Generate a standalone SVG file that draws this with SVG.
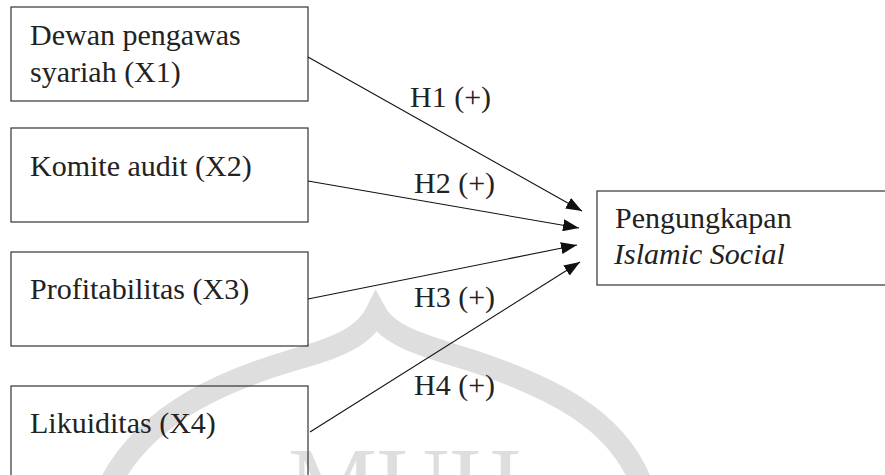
<svg xmlns="http://www.w3.org/2000/svg" width="885" height="475" viewBox="0 0 885 475">
  <style>
    .box { fill: none; stroke: #333; stroke-width: 1.2; }
    .t { font-family: "Liberation Serif", "Times New Roman", serif; font-size: 30px; fill: #222; }
    .it { font-style: italic; }
    .edge { stroke: #111; stroke-width: 1.1; fill: none; }
    .wm { fill: none; stroke: #dedede; stroke-width: 22; }
    .wmt { font-family: "Liberation Serif", "Times New Roman", serif; font-size: 100px; fill: #dedede; }
  </style>
  <defs>
    <marker id="arrow" markerUnits="userSpaceOnUse" markerWidth="16" markerHeight="12" refX="16" refY="6" orient="auto">
      <path d="M0,0 L16,6 L0,12 z" fill="#111"/>
    </marker>
  </defs>
  <rect width="885" height="475" fill="#fff"/>
  <g id="watermark">
    <path class="wm" d="M 112,480 C 150,410 230,378 300,358 C 340,347 365,335 376,313 C 388,335 420,345 470,360 C 555,388 615,420 640,480"/>
    <text class="wmt" x="288" y="516">MUH</text>
  </g>
  <g id="x1">
    <rect class="box" x="11" y="7" width="297" height="94"/>
    <text class="t" x="30" y="45">Dewan pengawas</text>
    <text class="t" x="30" y="82">syariah (X1)</text>
  </g>
  <g id="x2">
    <rect class="box" x="11" y="128" width="297" height="94"/>
    <text class="t" x="30" y="176">Komite audit (X2)</text>
  </g>
  <g id="x3">
    <rect class="box" x="11" y="252" width="297" height="94"/>
    <text class="t" x="30" y="299">Profitabilitas (X3)</text>
  </g>
  <g id="x4">
    <rect class="box" x="11" y="386" width="297" height="120"/>
    <text class="t" x="30" y="433">Likuiditas (X4)</text>
  </g>
  <g id="y">
    <rect class="box" x="597" y="191" width="300" height="94"/>
    <text class="t" x="615" y="228">Pengungkapan</text>
    <text class="t it" x="614" y="264">Islamic Social</text>
  </g>
  <g id="connectors">
    <line class="edge" x1="308" y1="57" x2="582" y2="211" marker-end="url(#arrow)"/>
    <line class="edge" x1="308" y1="181" x2="579" y2="228" marker-end="url(#arrow)"/>
    <line class="edge" x1="308" y1="299" x2="577" y2="245" marker-end="url(#arrow)"/>
    <line class="edge" x1="310" y1="432" x2="580" y2="262" marker-end="url(#arrow)"/>
    <text class="t" x="410" y="107">H1 (+)</text>
    <text class="t" x="414" y="193">H2 (+)</text>
    <text class="t" x="414" y="307">H3 (+)</text>
    <text class="t" x="414" y="395">H4 (+)</text>
  </g>
</svg>
